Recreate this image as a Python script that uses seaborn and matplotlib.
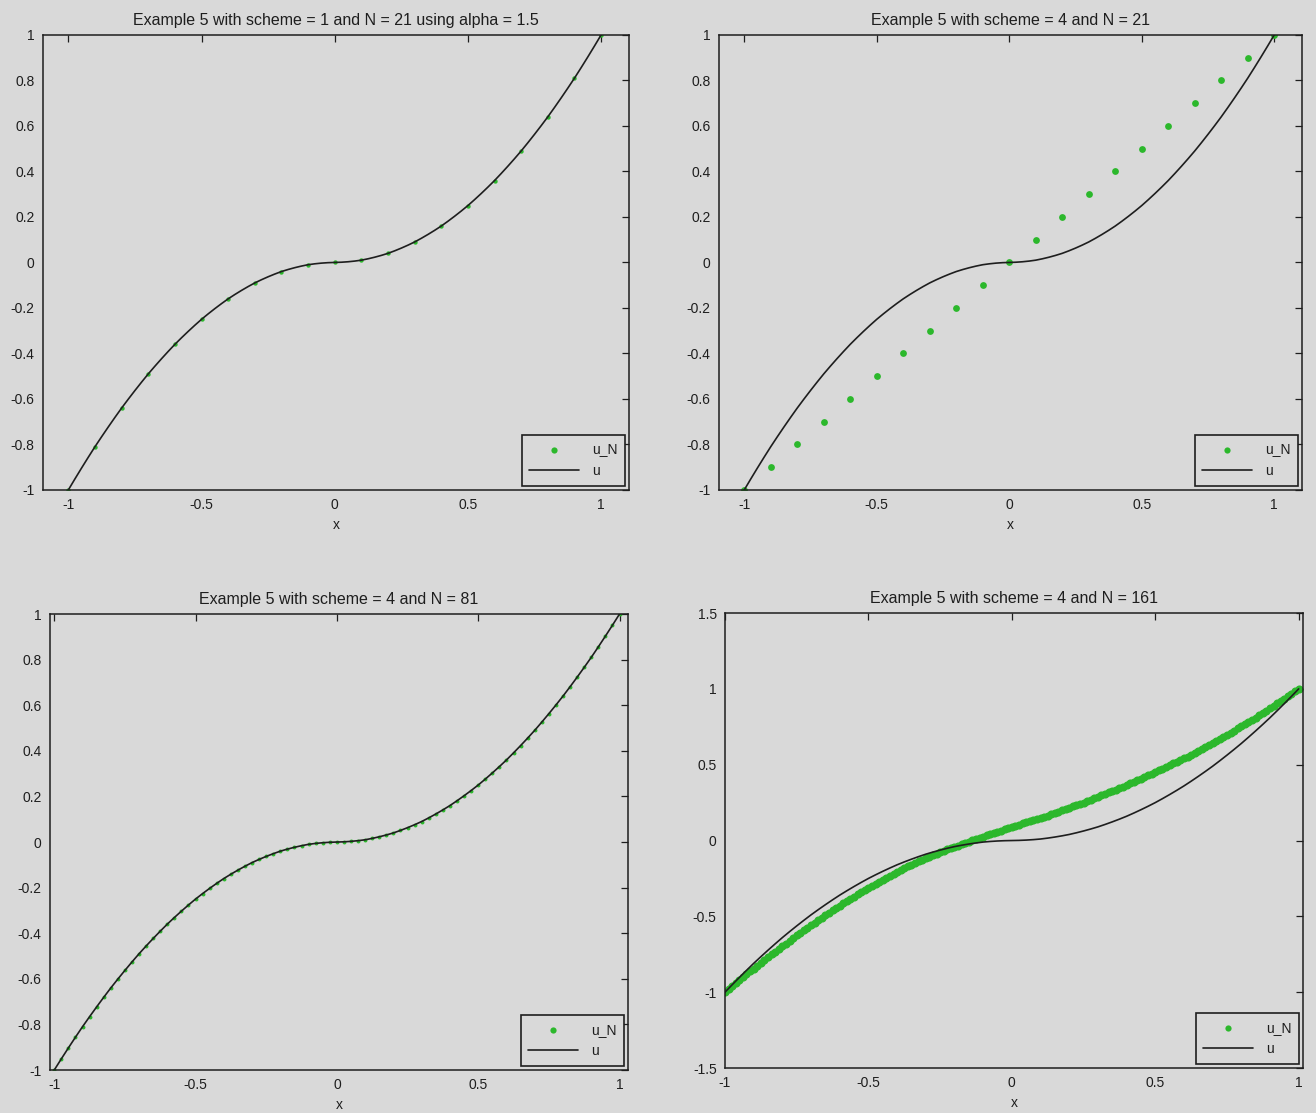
import numpy as np
import pandas as pd
import matplotlib
matplotlib.use("Agg")
import matplotlib.pyplot as plt
import seaborn as sns

# ---------------- data ----------------
titles = [
    "Example 5 with scheme = 1 and N = 21 using alpha = 1.5",
    "Example 5 with scheme = 4 and N = 21",
    "Example 5 with scheme = 4 and N = 81",
    "Example 5 with scheme = 4 and N = 161",
]
N_values = [21, 21, 81, 161]

# exact solution u read on a grid of 81 nodes
u_exact = [
    -1.000, -0.951, -0.903, -0.856, -0.810, -0.766, -0.723, -0.681, -0.640, -0.601,
    -0.563, -0.526, -0.490, -0.456, -0.423, -0.391, -0.360, -0.331, -0.303, -0.276,
    -0.250, -0.226, -0.203, -0.181, -0.160, -0.141, -0.123, -0.106, -0.090, -0.076,
    -0.063, -0.051, -0.040, -0.031, -0.023, -0.016, -0.010, -0.006, -0.003, -0.001,
    0.000,
    0.001, 0.003, 0.006, 0.010, 0.016, 0.023, 0.031, 0.040, 0.051, 0.063,
    0.076, 0.090, 0.106, 0.123, 0.141, 0.160, 0.181, 0.203, 0.226, 0.250,
    0.276, 0.303, 0.331, 0.360, 0.391, 0.423, 0.456, 0.490, 0.526, 0.563,
    0.601, 0.640, 0.681, 0.723, 0.766, 0.810, 0.856, 0.903, 0.951, 1.000,
]

# numerical solutions u_N
uN_scheme1_N21 = [-1.00, -0.81, -0.64, -0.49, -0.36, -0.25, -0.16, -0.09, -0.04, -0.01, 0.00,
                  0.01, 0.04, 0.09, 0.16, 0.25, 0.36, 0.49, 0.64, 0.81, 1.00]
uN_scheme4_N21 = [-1.0, -0.9, -0.8, -0.7, -0.6, -0.5, -0.4, -0.3, -0.2, -0.1, 0.0,
                  0.1, 0.2, 0.3, 0.4, 0.5, 0.6, 0.7, 0.8, 0.9, 1.0]
uN_scheme4_N81 = list(u_exact)
uN_scheme4_N161 = [
    -1.000,
    -0.980, -0.961, -0.941, -0.922, -0.902, -0.883, -0.863, -0.844, -0.824, -0.805,
    -0.787, -0.769, -0.751, -0.733, -0.715, -0.697, -0.679, -0.661, -0.643, -0.625,
    -0.608, -0.592, -0.575, -0.559, -0.542, -0.526, -0.509, -0.493, -0.476, -0.460,
    -0.445, -0.430, -0.415, -0.400, -0.385, -0.370, -0.355, -0.340, -0.325, -0.310,
    -0.297, -0.284, -0.271, -0.258, -0.245, -0.232, -0.219, -0.206, -0.193, -0.180,
    -0.170, -0.159, -0.149, -0.138, -0.128, -0.117, -0.107, -0.096, -0.086, -0.075,
    -0.067, -0.058, -0.050, -0.041, -0.033, -0.024, -0.016, -0.007, 0.002, 0.010,
    0.018, 0.026, 0.034, 0.042, 0.050, 0.058, 0.066, 0.074, 0.082, 0.090,
    0.098, 0.105, 0.113, 0.120, 0.128, 0.135, 0.143, 0.150, 0.158, 0.165,
    0.174, 0.182, 0.191, 0.199, 0.208, 0.216, 0.225, 0.233, 0.242, 0.250,
    0.260, 0.269, 0.279, 0.288, 0.298, 0.307, 0.317, 0.326, 0.336, 0.345,
    0.356, 0.366, 0.377, 0.387, 0.398, 0.408, 0.419, 0.429, 0.440, 0.450,
    0.462, 0.473, 0.485, 0.496, 0.508, 0.519, 0.531, 0.542, 0.554, 0.565,
    0.578, 0.591, 0.604, 0.617, 0.630, 0.643, 0.656, 0.669, 0.682, 0.695,
    0.710, 0.724, 0.739, 0.753, 0.768, 0.782, 0.797, 0.811, 0.826, 0.840,
    0.856, 0.872, 0.888, 0.904, 0.920, 0.936, 0.952, 0.968, 0.984, 1.000,
]
uN_series = [uN_scheme1_N21, uN_scheme4_N21, uN_scheme4_N81, uN_scheme4_N161]

x_ticks = [-1, -0.5, 0, 0.5, 1]
x_ticklabels = ["-1", "-0.5", "0", "0.5", "1"]
y_ticks_a = [-1, -0.8, -0.6, -0.4, -0.2, 0, 0.2, 0.4, 0.6, 0.8, 1]
y_ticklabels_a = ["-1", "-0.8", "-0.6", "-0.4", "-0.2", "0", "0.2", "0.4", "0.6", "0.8", "1"]
y_ticks_b = [-1.5, -1, -0.5, 0, 0.5, 1, 1.5]
y_ticklabels_b = ["-1.5", "-1", "-0.5", "0", "0.5", "1", "1.5"]

# ---------------- style ----------------
BG = "#d9d9d9"
GREEN = "#2cb82c"
INK = "#1e1e1e"

sns.set_theme(style="white")
plt.rcParams["font.family"] = ["Liberation Sans", "DejaVu Sans"]
plt.rcParams["axes.unicode_minus"] = False

fig = plt.figure(figsize=(13.16, 11.13), dpi=100, facecolor=BG)

positions = [
    [0.0327, 0.5598, 0.4453, 0.4088],
    [0.5464, 0.5598, 0.4430, 0.4088],
    [0.0380, 0.0386, 0.4392, 0.4097],
    [0.5509, 0.0404, 0.4392, 0.4088],
]
xlims = [(-1.095, 1.105), (-1.095, 1.105), (-1.015, 1.03), (-1.0, 1.015)]
ylims = [(-1, 1), (-1, 1), (-1, 1), (-1.5, 1.5)]
ytk = [(y_ticks_a, y_ticklabels_a)] * 3 + [(y_ticks_b, y_ticklabels_b)]
msizes = [10, 24, 8, 34]

x_fine = np.linspace(-1, 1, len(u_exact))
df_u = pd.DataFrame({"x": x_fine, "u": u_exact})

for i in range(4):
    ax = fig.add_axes(positions[i])
    ax.set_facecolor(BG)
    xN = np.linspace(-1, 1, N_values[i])
    df_N = pd.DataFrame({"x": xN, "uN": uN_series[i]})
    sns.scatterplot(data=df_N, x="x", y="uN", ax=ax, color=GREEN, s=msizes[i],
                    linewidth=0, marker="o", label="u_N", zorder=2)
    sns.lineplot(data=df_u, x="x", y="u", ax=ax, color=INK, linewidth=1.2,
                 label="u", zorder=3, estimator=None)
    ax.set_xlim(*xlims[i])
    ax.set_ylim(*ylims[i])
    ax.set_xticks(x_ticks)
    ax.set_xticklabels(x_ticklabels)
    ax.set_yticks(ytk[i][0])
    ax.set_yticklabels(ytk[i][1])
    ax.set_xlabel("x", fontsize=10, color=INK, labelpad=4)
    ax.set_ylabel("")
    ax.set_title(titles[i], fontsize=11.5, color=INK, pad=7)
    ax.tick_params(direction="in", top=True, right=True, length=5, width=0.9,
                   colors=INK, labelsize=10, pad=6)
    for sp in ax.spines.values():
        sp.set_visible(True)
        sp.set_color(INK)
        sp.set_linewidth(1.1)
    h, l = ax.get_legend_handles_labels()
    leg = ax.legend(h, l, loc="lower right", fontsize=10, frameon=True,
                    fancybox=False, facecolor=BG, edgecolor=INK,
                    handlelength=3.6, borderaxespad=0.3, markerscale=1.0,
                    labelspacing=0.55, handletextpad=0.9, borderpad=0.55)
    leg.legend_handles[0].set_sizes([20])
    leg.get_frame().set_linewidth(1.2)
    leg.get_frame().set_alpha(1)
    for t in leg.get_texts():
        t.set_color(INK)

fig.savefig("out.png", dpi=100, facecolor=BG)
